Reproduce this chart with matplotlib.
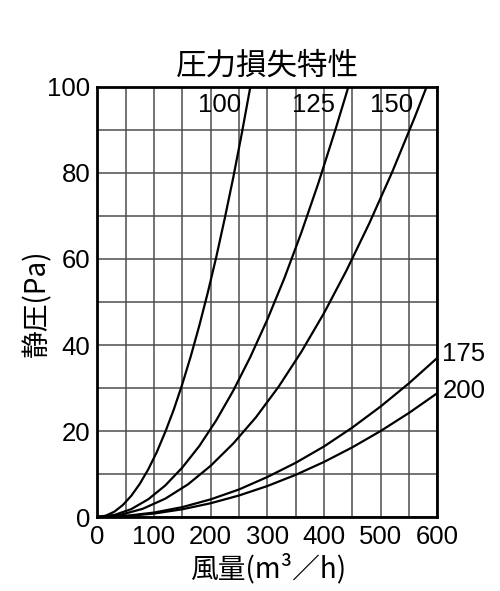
import matplotlib
matplotlib.use("Agg")
import matplotlib.pyplot as plt

plt.rcParams['font.family'] = ['Liberation Sans', 'Noto Sans CJK JP', 'DejaVu Sans']

# air flow (m3/h) and static pressure (Pa)
q_100 = [0, 15, 30, 45, 60, 75, 90, 105, 120, 135, 150, 165, 180, 195,
         210, 225, 240, 255, 270]
p_100 = [0, 0.31, 1.23, 2.78, 4.94, 7.72, 11.1, 15.1, 19.8, 25.0, 30.9,
         37.4, 44.5, 52.2, 60.5, 69.5, 79.0, 89.2, 100]

q_125 = [0, 30, 60, 90, 120, 150, 180, 210, 240, 270, 300, 330, 360, 390,
         420, 443]
p_125 = [0, 0.46, 1.84, 4.13, 7.34, 11.5, 16.5, 22.5, 29.4, 37.2, 45.9,
         55.5, 66.1, 77.6, 90.0, 100]

q_150 = [0, 40, 80, 120, 160, 200, 240, 280, 320, 360, 400, 440, 480, 520,
         560, 581]
p_150 = [0, 0.47, 1.90, 4.27, 7.59, 11.9, 17.1, 23.2, 30.3, 38.4, 47.4,
         57.4, 68.3, 80.1, 92.9, 100]

q_175 = [0, 50, 100, 150, 200, 250, 300, 350, 400, 450, 500, 550, 600]
p_175 = [0, 0.26, 1.03, 2.3, 4.1, 6.4, 9.3, 12.6, 16.4, 20.8, 25.7, 31.1, 37.0]

q_200 = [0, 50, 100, 150, 200, 250, 300, 350, 400, 450, 500, 550, 600]
p_200 = [0, 0.2, 0.8, 1.8, 3.2, 5.0, 7.2, 9.8, 12.8, 16.2, 20.0, 24.2, 28.8]

curves = [
    ("100", q_100, p_100, (215, 95.8), "center"),
    ("125", q_125, p_125, (382, 95.8), "center"),
    ("150", q_150, p_150, (519, 95.8), "center"),
    ("175", q_175, p_175, (609, 37.9), "left"),
    ("200", q_200, p_200, (609, 29.3), "left"),
]

x_ticks = [0, 100, 200, 300, 400, 500, 600]
y_ticks = [0, 20, 40, 60, 80, 100]

fig = plt.figure(figsize=(5.0, 5.91), dpi=100)
ax = fig.add_axes([0.1946, 0.1252, 0.68, 0.7276])

for label, q, p, (lx, ly), ha in curves:
    ax.plot(q, p, color="black", lw=1.6, solid_joinstyle="round", zorder=3)
    ax.text(lx, ly, label, ha=ha, va="center", fontsize=18.5,
            clip_on=False, zorder=4)

ax.set_xlim(0, 600)
ax.set_ylim(0, 100)
ax.set_xticks(x_ticks)
ax.set_yticks(y_ticks)
ax.set_xticks(range(0, 601, 50), minor=True)
ax.set_yticks(range(0, 101, 10), minor=True)
ax.grid(which="both", color="#4d4d4d", lw=1.1, zorder=1)
ax.tick_params(which="both", length=0, labelsize=18.5)
ax.tick_params(axis="x", pad=6)
ax.tick_params(axis="y", pad=5)
for s in ax.spines.values():
    s.set_linewidth(2.0)
    s.set_zorder(5)

fig.text(0.534, 0.888, "圧力損失特性", ha="center", va="center",
         fontsize=22, family=["Noto Sans CJK JP"])
fig.text(0.536, 0.037, "風量(m³／h)", ha="center", va="center",
         fontsize=20, family=["Noto Sans CJK JP", "DejaVu Sans"])
fig.text(0.074, 0.487, "静圧(Pa)", ha="center", va="center", rotation=90,
         fontsize=20, family=["Noto Sans CJK JP", "DejaVu Sans"])

fig.savefig("out.png", dpi=100)
